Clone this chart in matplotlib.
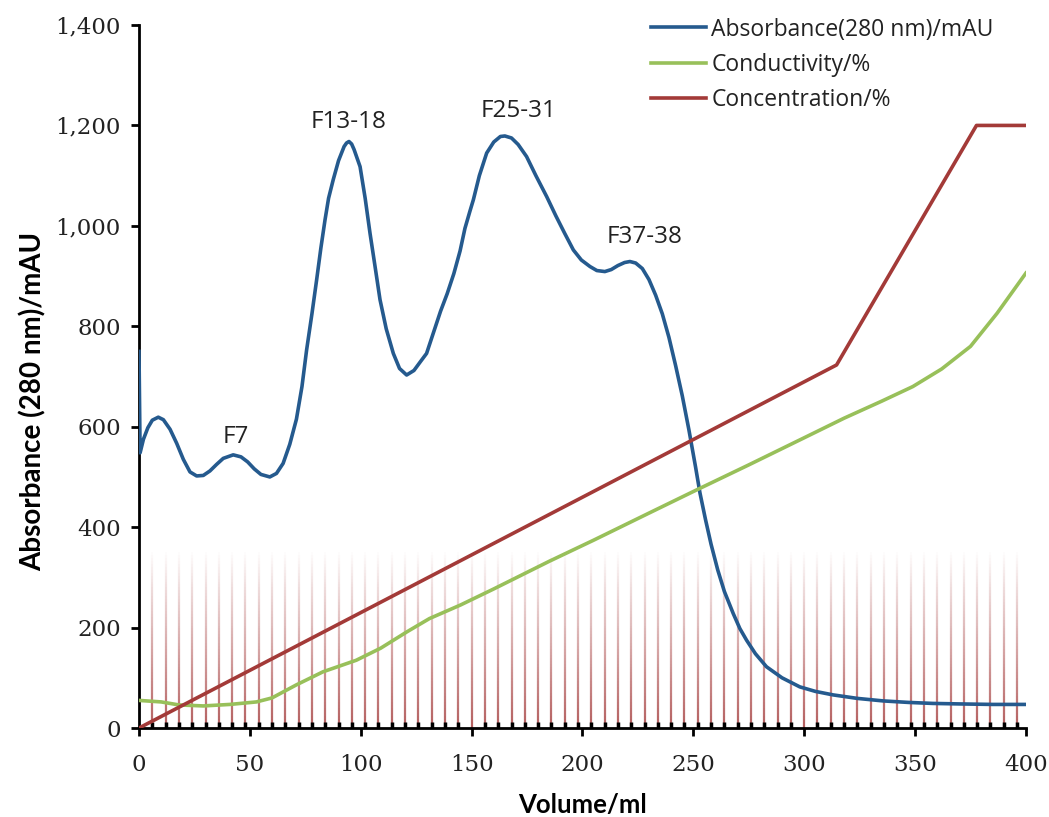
import numpy as np
import matplotlib
matplotlib.use("Agg")
import matplotlib.pyplot as plt
from matplotlib.collections import LineCollection
from matplotlib.ticker import FuncFormatter, FixedLocator

# Absorbance at 280 nm (mAU) along the elution volume (ml)
abs_volume = [0, 0.5, 2, 4, 6, 8.7, 11, 14, 17, 20, 23, 26, 29, 32, 35, 38, 42.5, 46, 49, 52,
              55, 59, 62, 65, 68, 71, 73.5, 75.6, 78, 80.1, 82, 83.9, 85.5, 87.6, 90, 92.5,
              93.6, 94.7, 95.9, 97, 99.7, 102, 104.2, 106.5, 108.7, 111.5, 114.7, 117.5, 120.7,
              124, 127, 129.7, 133, 136, 139, 142, 144.8, 147, 149.3, 150.8, 153.5, 156.8, 160,
              163, 165, 168, 171, 174.8, 179, 183.9, 188, 192, 195.9, 199.5, 203.4, 206.5,
              210.1, 213, 216, 219, 221.4, 224, 227, 230, 233, 236, 239, 242, 245, 248, 251,
              253, 255.5, 258, 261, 264, 268, 271, 274, 278, 283, 290, 298, 305, 313, 324,
              335.6, 347, 358, 370, 385, 400]
abs_value = [750, 548, 575, 598, 613, 619, 614, 595, 567, 535, 510, 502, 503, 512, 525, 537,
             544, 540, 530, 516, 505, 500, 507, 527, 565, 615, 680, 753, 825, 892, 955, 1012,
             1055, 1092, 1130, 1158, 1165, 1168, 1163, 1152, 1118, 1055, 985, 918, 853, 795,
             746, 716, 703, 712, 730, 746, 790, 830, 865, 905, 950, 995, 1030, 1052, 1100,
             1145, 1167, 1178, 1179, 1175, 1162, 1138, 1100, 1058, 1020, 985, 952, 932, 919,
             911, 909, 913, 921, 927, 929, 926, 915, 893, 862, 825, 778, 722, 662, 594, 520,
             468, 415, 366, 315, 272, 228, 198, 175, 148, 122, 100, 82, 73, 66, 59, 54, 51,
             49, 48, 47, 47]

# Conductivity (%) trace, plotted on the same scale
cond_volume = [0, 10, 18, 29, 41, 53, 60, 71, 83, 98, 109, 121, 131, 145, 160, 185, 205, 230,
               250, 275, 300, 318, 335, 349, 362, 375, 387, 400]
cond_value = [55, 52, 46, 44, 47, 52, 60, 86, 112, 135, 159, 192, 218, 245, 277, 332, 374, 428,
              471, 524, 578, 617, 651, 680, 715, 760, 826, 906]

# Buffer concentration (%) gradient program
conc_volume = [0, 314.6, 377.7, 400]
conc_value = [0, 723, 1200, 1200]

# Collected fractions (6 ml each) and peak labels
fraction_volume = list(range(6, 400, 6))
fraction_height = 350
peak_labels = ["F7", "F13-18", "F25-31", "F37-38"]
peak_label_x = [43.7, 94.7, 171, 228]
peak_label_y = [580, 1207, 1229, 978]

x_ticks = [0, 50, 100, 150, 200, 250, 300, 350, 400]
y_ticks = [0, 200, 400, 600, 800, 1000, 1200, 1400]

BLUE = "#255A8E"
GREEN = "#98C05A"
RED = "#A33A38"

fig = plt.figure(figsize=(10.49, 8.17), dpi=100)
ax = fig.add_axes([0.1325, 0.1089, 0.978 - 0.1325, 0.9694 - 0.1089])
ax.set_xlim(0, 400)
ax.set_ylim(0, 1400)

# Fraction markers: vertical strokes fading out towards the top
n_seg = 60
levels = np.linspace(0, fraction_height, n_seg + 1)
segs, cols = [], []
base_rgb = matplotlib.colors.to_rgb("#A84444")
for fx in fraction_volume:
    for i in range(n_seg):
        segs.append([(fx, levels[i]), (fx, levels[i + 1])])
        t = i / n_seg
        cols.append((*base_rgb, 0.85 * (1 - t) ** 1.0))
ax.add_collection(LineCollection(segs, colors=cols, linewidths=1.6, zorder=1))

ax.plot(abs_volume, abs_value, color=BLUE, lw=2.6, label="Absorbance(280 nm)/mAU",
        zorder=3, solid_joinstyle="round")
ax.plot(cond_volume, cond_value, color=GREEN, lw=2.6, label="Conductivity/%", zorder=4)
ax.plot(conc_volume, conc_value, color=RED, lw=2.6, label="Concentration/%", zorder=5)

for txt, lx, ly in zip(peak_labels, peak_label_x, peak_label_y):
    ax.text(lx, ly, txt, ha="center", va="center", fontsize=17.5, family="Open Sans",
            color="#222222")

for s in ["top", "right"]:
    ax.spines[s].set_visible(False)
for s in ["left", "bottom"]:
    ax.spines[s].set_linewidth(2)
    ax.spines[s].set_color("black")

ax.xaxis.set_major_locator(FixedLocator(x_ticks))
ax.yaxis.set_major_locator(FixedLocator(y_ticks))
ax.set_xticks(fraction_volume, minor=True)
ax.yaxis.set_major_formatter(FuncFormatter(lambda v, p: f"{int(v):,}"))
ax.tick_params(axis="both", which="major", direction="out", length=6, width=2,
               labelsize=16.5)
ax.tick_params(axis="x", which="major", pad=13)
ax.tick_params(axis="y", which="major", pad=7)
ax.tick_params(axis="x", which="minor", direction="in", length=4, width=2.5)
for lab in ax.get_xticklabels() + ax.get_yticklabels():
    lab.set_family("DejaVu Serif")
    lab.set_color("#222222")

ax.set_xlabel("Volume/ml", fontsize=18.5, fontweight="bold", family="Lato", labelpad=12)
ax.set_ylabel("Absorbance (280 nm)/mAU", fontsize=20, fontweight="bold", family="Lato")
ax.yaxis.set_label_coords(-0.104, 0.464)

leg = ax.legend(loc="upper right", bbox_to_anchor=(0.987, 1.04), frameon=False,
                prop={"family": "Open Sans", "size": 16.5}, handlelength=2.4,
                handletextpad=0.25, labelspacing=0.5)
for t in leg.get_texts():
    t.set_color("#222222")

fig.savefig("out.png", dpi=100)
